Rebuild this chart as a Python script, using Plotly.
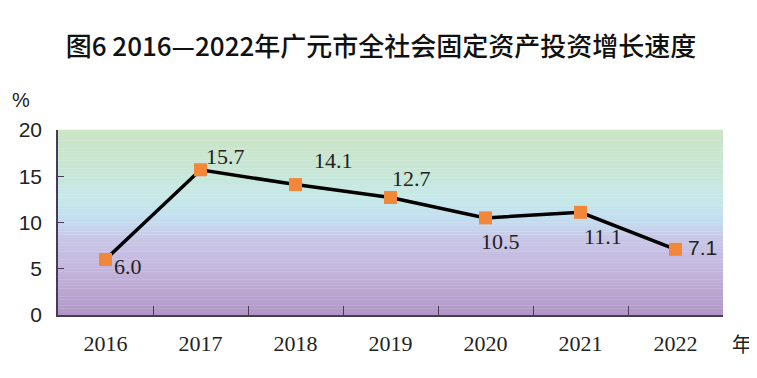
import plotly.graph_objects as go

years = ["2016", "2017", "2018", "2019", "2020", "2021", "2022"]
growth = [6.0, 15.7, 14.1, 12.7, 10.5, 11.1, 7.1]
y_ticks = [0, 5, 10, 15, 20]

# label offsets (px) for each data label
label_dx = [6, 3, 16, -1, -7, 1, 10]
label_dy = [-7, 13, 24, 19, -24, -24, 2]

fig = go.Figure()

# vertical gradient background (paper-ref bands inside plot area)
stops = [
    (0.00, (176, 150, 198)),
    (0.25, (196, 182, 220)),
    (0.42, (200, 200, 232)),
    (0.52, (194, 222, 240)),
    (0.62, (198, 232, 234)),
    (0.80, (200, 230, 212)),
    (1.00, (202, 228, 196)),
]

def interp(f):
    for (f0, c0), (f1, c1) in zip(stops[:-1], stops[1:]):
        if f0 <= f <= f1:
            t = (f - f0) / (f1 - f0) if f1 > f0 else 0
            return tuple(round(a + (b - a) * t) for a, b in zip(c0, c1))
    return stops[-1][1]

n = 120
shapes = []
for i in range(n):
    f = (i + 0.5) / n
    r, g, b = interp(f)
    shapes.append(dict(type="rect", xref="paper", yref="paper",
                       x0=0, x1=1, y0=i / n, y1=(i + 1) / n + 0.002,
                       fillcolor=f"rgb({r},{g},{b})", line=dict(width=0),
                       layer="below"))

fig.add_trace(go.Scatter(
    x=years, y=growth, mode="lines+markers",
    line=dict(color="black", width=3.5),
    marker=dict(symbol="square", size=13, color="#f2873a", line=dict(width=0)),
    hoverinfo="skip", showlegend=False,
))

annotations = []
for i, v in enumerate(growth):
    is_last = i == len(growth) - 1
    annotations.append(dict(
        x=i, y=v, xref="x", yref="y", text=f"{v:.1f}", showarrow=False,
        xanchor="left", yanchor="middle", xshift=label_dx[i], yshift=label_dy[i],
        font=dict(family="Liberation Sans" if is_last else "Liberation Serif",
                  size=21 if is_last else 22, color="#222222"),
    ))

annotations.append(dict(text="%", xref="paper", yref="paper", x=-0.072, y=1.0,
                        xanchor="left", yanchor="middle", yshift=30, showarrow=False,
                        font=dict(family="Liberation Sans", size=20, color="#222")))
annotations.append(dict(text="年", xref="paper", yref="paper", x=1.0, y=0,
                        xanchor="left", yanchor="middle", xshift=7, yshift=-28,
                        showarrow=False,
                        font=dict(family="Noto Sans CJK SC", size=20, color="#222")))

fig.update_layout(
    width=749, height=370,
    margin=dict(l=50, r=34, t=122, b=63),
    paper_bgcolor="white", plot_bgcolor="rgba(0,0,0,0)",
    shapes=shapes, annotations=annotations,
    title=dict(text="图6 2016—2022年广元市全社会固定资产投资增长速度",
               x=0.498, xanchor="center", y=0.895, yanchor="middle",
               font=dict(family="Noto Sans CJK SC", size=26, color="#111", weight=500)),
    xaxis=dict(type="category", range=[-0.5, 6.5], tickson="boundaries",
               ticks="inside", ticklen=9, tickcolor="#4a3a5a", tickwidth=1,
               showline=True, linecolor="#4a3a5a", linewidth=1.5,
               showgrid=False, zeroline=False, ticklabelstandoff=8,
               tickfont=dict(family="Liberation Serif", size=22, color="#222")),
    yaxis=dict(range=[0, 20], tickvals=y_ticks, ticks="inside", ticklen=6,
               tickcolor="#4a3a5a", showline=True, linecolor="#4a3a5a", linewidth=1.5,
               showgrid=False, zeroline=False, ticklabelstandoff=10,
               tickfont=dict(family="Liberation Sans", size=21, color="#222")),
)

fig.write_html("out.html")
